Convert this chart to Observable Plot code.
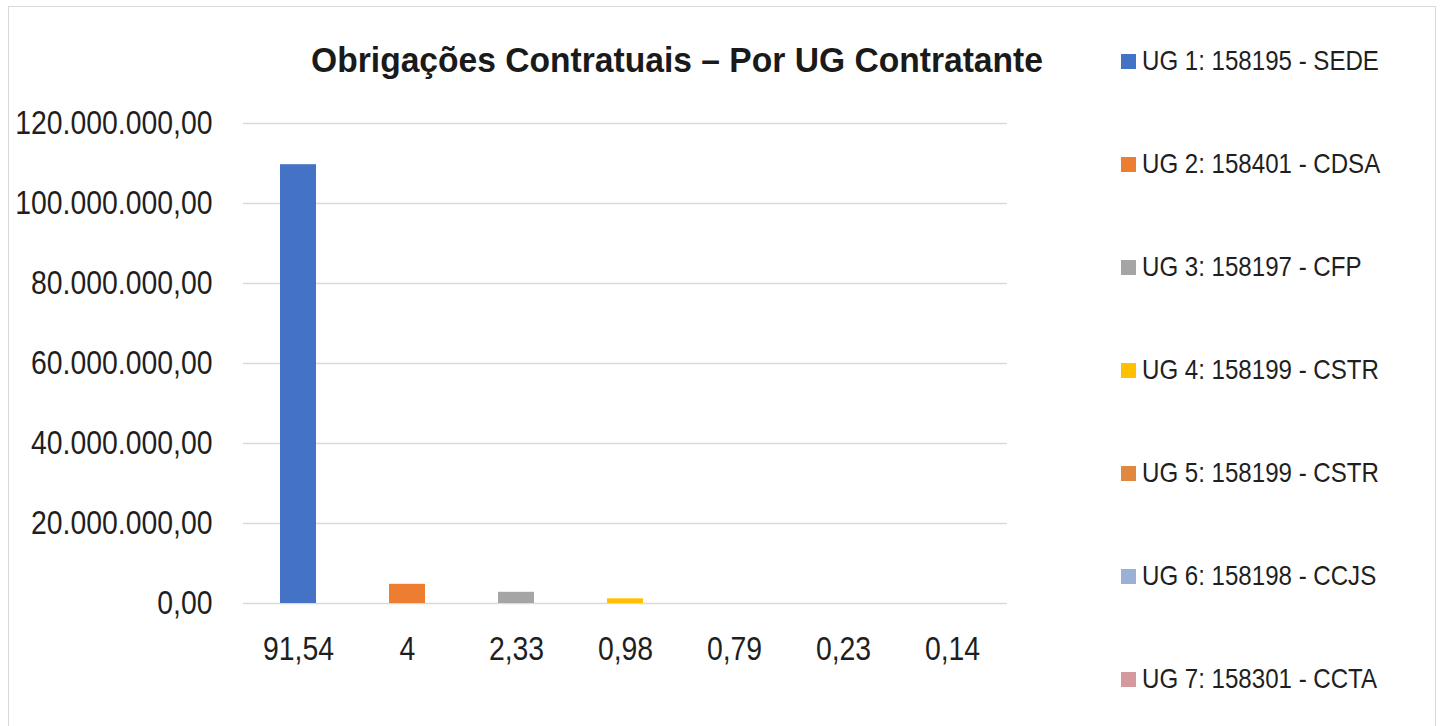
<!DOCTYPE html>
<html>
<head>
<meta charset="utf-8">
<script src="https://cdn.jsdelivr.net/npm/d3@7"></script>
<script src="https://cdn.jsdelivr.net/npm/@observablehq/plot@0.6"></script>
<style>
  html, body { margin: 0; padding: 0; background: #fff; }
  body { width: 1440px; height: 726px; overflow: hidden; position: relative;
         font-family: "Liberation Sans", Arial, sans-serif; }
  #frame { position: absolute; left: 8px; top: 6px; width: 1428px; height: 740px; border: 1.5px solid #d9d9d9; box-sizing: border-box; }
  #chart { position: absolute; left: 0; top: 0; }
  #title { position: absolute; left: 677px; top: 40px; font-weight: bold; font-size: 35px; color: #1a1a1a; white-space: nowrap;
           transform: translateX(-50%) scaleX(0.96); transform-origin: 50% 50%; }
  .leg { position: absolute; left: 1121px; display: flex; align-items: center; font-size: 28px; color: #1f1f1f; white-space: nowrap; }
  .leg span.sw { display: inline-block; width: 15px; height: 15px; margin-right: 6px; flex: none; }
  .leg span.tx { display: inline-block; transform: scaleX(0.86); transform-origin: 0 50%; }
</style>
</head>
<body>
<div id="frame"></div>
<div id="chart"></div>
<div id="title">Obrigações Contratuais – Por UG Contratante</div>
<div id="legend"></div>
<script>
// Data
const percentLabels = ["91,54", "4", "2,33", "0,98", "0,79", "0,23", "0,14"];
const values = [109700000, 4800000, 2800000, 1170000, 0, 0, 0];
const ugNames = [
  "UG 1: 158195 - SEDE",
  "UG 2: 158401 - CDSA",
  "UG 3: 158197 - CFP",
  "UG 4: 158199 - CSTR",
  "UG 5: 158199 - CSTR",
  "UG 6: 158198 - CCJS",
  "UG 7: 158301 - CCTA"
];
const colors = ["#4472C4", "#ED7D31", "#A5A5A5", "#FFC000", "#E0893E", "#9BB0D6", "#D4999C"];
const yTicks = [0, 20000000, 40000000, 60000000, 80000000, 100000000, 120000000];

const data = percentLabels.map((p, i) => ({pct: p, value: values[i], ug: ugNames[i], color: colors[i]}));

const locale = d3.formatLocale({decimal: ",", thousands: ".", grouping: [3], currency: ["R$", ""]});
const fmt = locale.format(",.2f");

const plot = Plot.plot({
  width: 1100,
  height: 726,
  marginLeft: 243,
  marginRight: 93,
  marginTop: 123,
  marginBottom: 123,
  style: {fontFamily: '"Liberation Sans", Arial, sans-serif', fontSize: "33px", color: "#1f1f1f", background: "transparent"},
  x: {domain: percentLabels, paddingInner: 0.67, paddingOuter: 0.335, label: null},
  y: {domain: [0, 120000000], label: null},
  marks: [
    Plot.ruleY(yTicks, {stroke: "#d9d9d9", strokeWidth: 1.5}),
    Plot.barY(data, {x: "pct", y: "value", fill: "color"}),
    Plot.axisY({ticks: yTicks, tickFormat: fmt, tickSize: 0, tickPadding: 31, label: null, fontSize: 33}),
    Plot.axisX({tickSize: 0, tickPadding: 33, label: null, fontSize: 33})
  ]
});
document.getElementById("chart").appendChild(plot);

// condense axis text horizontally (narrow typeface look)
plot.querySelectorAll("text").forEach(el => {
  const len = el.getComputedTextLength();
  if (len > 0) {
    el.setAttribute("textLength", (len * 0.86).toFixed(2));
    el.setAttribute("lengthAdjust", "spacingAndGlyphs");
  }
});

const legend = document.getElementById("legend");
ugNames.forEach((name, i) => {
  const d = document.createElement("div");
  d.className = "leg";
  d.style.top = (62 + i * 103 - 17) + "px";
  d.innerHTML = `<span class="sw" style="background:${colors[i]}"></span><span class="tx">${name}</span>`;
  legend.appendChild(d);
});
</script>
</body>
</html>
